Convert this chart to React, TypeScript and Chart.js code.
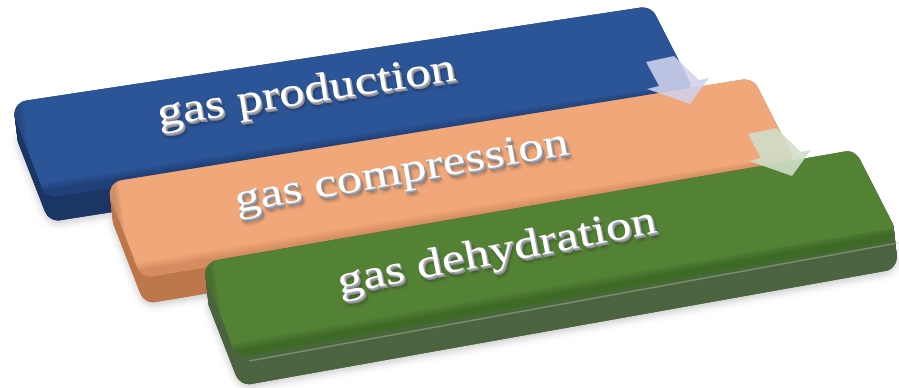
import { useEffect, useRef } from "react";
import { Chart, registerables } from "chart.js";

Chart.register(...registerables);

// Process stages, in flow order
const stages = ["gas production", "gas compression", "gas dehydration"];
const stageOrder = [0, 1, 2];
const stageLevel = [0, 1, 2];

// Slab palette: top face, front edge, bevel shade, seam on the front edge
const topColors = ["#2C5597", "#F0A87A", "#548235"];
const sideColors = ["#1C3665", "#BD774C", "#4D6441"];
const bevelColors = ["#1F4079", "#D48C60", "#3E6A27"];
const seamColors = ["rgba(255,255,255,0)", "rgba(255,255,255,0)", "rgba(170,205,150,0.45)"];
const arrowColors = ["rgba(208,210,236,0.88)", "rgba(206,222,200,0.9)"];

const LABEL_FONT = '51px "Liberation Serif", "Times New Roman", Times, serif';

type Pt = [number, number];

function slabGeometry(x: number, y: number, i: number) {
  const w = 642 + 6.5 * i;
  const s = 0.151 + 0.011 * i;
  const tl: Pt = [x, y];
  const tr: Pt = [x + w, y - s * w];
  const br: Pt = [tr[0] + 46, tr[1] + 90];
  const bl: Pt = [x + 37, y + 95];
  return { pts: [tl, tr, br, bl] as Pt[], depth: 24 + 2 * i, tl, tr, br, bl };
}
type Geom = ReturnType<typeof slabGeometry>;

function roundedPath(ctx: CanvasRenderingContext2D, pts: Pt[], r: number) {
  const n = pts.length;
  const a = pts[n - 1];
  const b = pts[0];
  ctx.beginPath();
  ctx.moveTo((a[0] + b[0]) / 2, (a[1] + b[1]) / 2);
  for (let k = 0; k < n; k++) {
    const p = pts[k];
    const q = pts[(k + 1) % n];
    ctx.arcTo(p[0], p[1], q[0], q[1], r);
  }
  ctx.closePath();
}

function shifted(pts: Pt[], dx: number, dy: number): Pt[] {
  return pts.map((p) => [p[0] + dx, p[1] + dy] as Pt);
}

function drawSlab(ctx: CanvasRenderingContext2D, g: Geom, i: number) {
  const { pts, depth, tl, br, bl } = g;
  // soft drop shadow under the block
  ctx.save();
  ctx.shadowColor = "rgba(0,0,0,0.22)";
  ctx.shadowBlur = 8;
  ctx.shadowOffsetY = 3;
  ctx.fillStyle = sideColors[i];
  roundedPath(ctx, shifted(pts, 3, depth), 14);
  ctx.fill();
  ctx.restore();
  // extruded thickness
  ctx.fillStyle = sideColors[i];
  for (let k = depth; k >= 0; k--) {
    roundedPath(ctx, shifted(pts, (3 * k) / depth, k), 14);
    ctx.fill();
  }
  // seam along the front edge
  ctx.save();
  ctx.strokeStyle = seamColors[i];
  ctx.lineWidth = 1.5;
  ctx.beginPath();
  ctx.moveTo(bl[0] + 12, bl[1] + 3);
  ctx.lineTo(br[0] - 2, br[1] + 3);
  ctx.stroke();
  ctx.restore();

  // flat top face
  ctx.fillStyle = topColors[i];
  roundedPath(ctx, pts, 14);
  ctx.fill();

  // rounded bevel along the front edge of the top face
  ctx.save();
  roundedPath(ctx, pts, 14);
  ctx.clip();
  const ex = br[0] - bl[0];
  const ey = br[1] - bl[1];
  const len = Math.hypot(ex, ey);
  const nx = ey / len;
  const ny = -ex / len;
  const mx = (bl[0] + br[0]) / 2;
  const my = (bl[1] + br[1]) / 2;
  const band = 16;
  const grad = ctx.createLinearGradient(mx, my, mx + nx * band, my + ny * band);
  grad.addColorStop(0, bevelColors[i]);
  grad.addColorStop(0.45, bevelColors[i]);
  grad.addColorStop(1, topColors[i]);
  ctx.fillStyle = grad;
  ctx.beginPath();
  ctx.moveTo(bl[0] - 20, bl[1] + 4);
  ctx.lineTo(br[0] + 20, br[1] + 4);
  ctx.lineTo(br[0] + 20 + nx * band, br[1] + ny * band);
  ctx.lineTo(bl[0] - 20 + nx * band, bl[1] + ny * band);
  ctx.closePath();
  ctx.fill();
  // faint rounding on the left end
  const lg = ctx.createLinearGradient(tl[0], tl[1], tl[0] + 14, tl[1] - 2);
  lg.addColorStop(0, bevelColors[i]);
  lg.addColorStop(1, "rgba(0,0,0,0)");
  ctx.fillStyle = lg;
  ctx.beginPath();
  ctx.moveTo(tl[0] - 5, tl[1] - 5);
  ctx.lineTo(tl[0] + 14, tl[1] - 5);
  ctx.lineTo(bl[0] + 14, bl[1] + 5);
  ctx.lineTo(bl[0] - 5, bl[1] + 5);
  ctx.closePath();
  ctx.globalAlpha = 0.5;
  ctx.fill();
  ctx.restore();
}

function drawLabel(ctx: CanvasRenderingContext2D, g: Geom, i: number, text: string) {
  ctx.save();
  ctx.translate(g.tl[0] + 299, g.tl[1]);
  ctx.rotate((-(8.8 + 1.15 * i) * Math.PI) / 180);
  ctx.scale(1, 0.8);
  ctx.font = LABEL_FONT;
  ctx.textAlign = "center";
  ctx.textBaseline = "alphabetic";
  ctx.save();
  ctx.shadowColor = "rgba(0,0,0,0.35)";
  ctx.shadowBlur = 3;
  ctx.shadowOffsetX = 1;
  ctx.shadowOffsetY = 2;
  ctx.fillStyle = "#6f7078";
  ctx.fillText(text, 1.6, 3.6);
  ctx.restore();
  for (let k = 4; k >= 1; k--) {
    ctx.fillStyle = k > 2 ? "#8c8d95" : "#a9aab2";
    ctx.fillText(text, k * 0.4, k * 0.9);
  }
  ctx.fillStyle = "#ffffff";
  ctx.fillText(text, 0, 0);
  ctx.restore();
}

function drawArrow(ctx: CanvasRenderingContext2D, from: Geom, color: string) {
  const ax = from.tr[0] - 5;
  const ay = from.tr[1] + 56;
  const shape: Pt[] = [
    [0, 0],
    [28, -6],
    [53, 18],
    [63, 16],
    [44, 42],
    [1, 27],
    [13, 24],
  ];
  ctx.save();
  ctx.fillStyle = color;
  ctx.beginPath();
  shape.forEach((p, k) => {
    if (k === 0) ctx.moveTo(ax + p[0], ay + p[1]);
    else ctx.lineTo(ax + p[0], ay + p[1]);
  });
  ctx.closePath();
  ctx.fill();
  ctx.restore();
}

const slabPlugin = {
  id: "stageSlabs",
  afterDatasetsDraw(chart: any) {
    const ctx: CanvasRenderingContext2D = chart.ctx;
    const meta = chart.getDatasetMeta(0);
    const geoms: Geom[] = meta.data.map((el: any, i: number) => slabGeometry(el.x, el.y, i));
    geoms.forEach((g, i) => {
      drawSlab(ctx, g, i);
      drawLabel(ctx, g, i, stages[i]);
    });
    for (let i = 0; i < geoms.length - 1; i++) drawArrow(ctx, geoms[i], arrowColors[i]);
  },
};

export default function App() {
  const ref = useRef<HTMLCanvasElement | null>(null);
  useEffect(() => {
    document.body.style.margin = "0";
    let chart: Chart | null = null;
    let cancelled = false;
    const build = () => {
      if (cancelled || !ref.current) return;
      chart = new Chart(ref.current, {
        type: "scatter",
        data: {
          datasets: [
            {
              label: "stages",
              data: stageOrder.map((o, i) => ({ x: o, y: stageLevel[i] })),
              pointRadius: 0,
              pointHoverRadius: 0,
            },
          ],
        },
        options: {
          animation: false,
          responsive: false,
          events: [],
          layout: { padding: 0 },
          plugins: { legend: { display: false }, tooltip: { enabled: false } },
          scales: {
            x: { type: "linear", display: false, min: -0.0942, max: 9.3194 },
            y: { type: "linear", display: false, reverse: true, min: -1.2875, max: 3.5625 },
          },
        },
        plugins: [slabPlugin],
      });
    };
    document.fonts.load(LABEL_FONT, "gas production").then(build, build);
    return () => {
      cancelled = true;
      if (chart) chart.destroy();
    };
  }, []);
  return <canvas ref={ref} width={899} height={388} style={{ display: "block" }} />;
}
